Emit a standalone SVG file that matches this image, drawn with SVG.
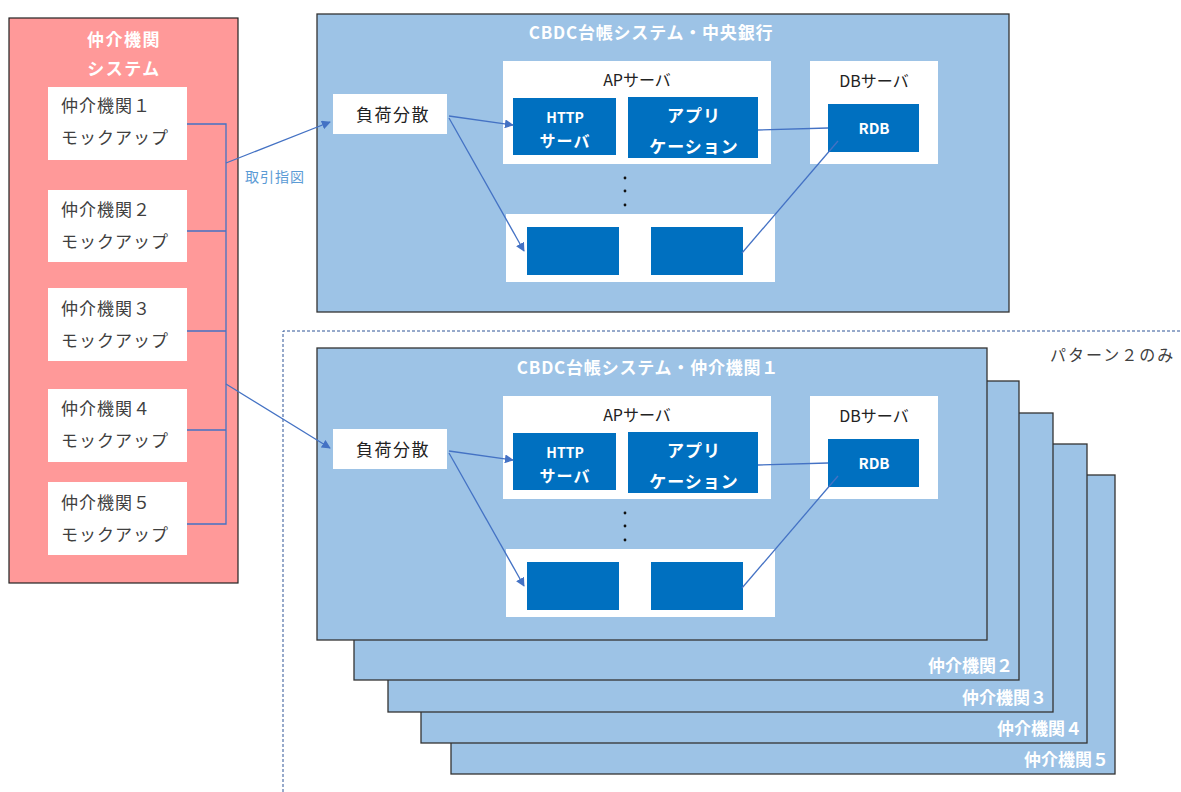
<svg xmlns="http://www.w3.org/2000/svg" width="1181" height="792" viewBox="0 0 1181 792">
<style>
text{font-family:"Noto Sans CJK JP","Noto Sans",sans-serif}
.pink{fill:#FF9999;stroke:#222;stroke-width:1.2}
.sys{fill:#9DC3E6;stroke:#333;stroke-width:1.3}
.wbox{fill:#fff}
.bbox{fill:#0070C0}
.wt{fill:#fff;font-weight:bold;text-anchor:middle}
.dt{fill:#404040;font-size:17px;letter-spacing:1px}
.ct{fill:#222;font-size:16px;text-anchor:middle}
.stk{fill:#fff;font-weight:bold;font-size:17px;text-anchor:end}
.ln{stroke:#4472C4;stroke-width:1.3;fill:none}
</style>
<defs>
<marker id="ah" viewBox="0 0 10 10" refX="9" refY="5" markerWidth="9" markerHeight="9" markerUnits="userSpaceOnUse" orient="auto">
<path d="M0,0 L10,5 L0,10 z" fill="#4472C4"/>
</marker>
<g id="sysInner">
<rect class="wbox" x="333" y="94" width="114" height="40"/>
<text class="ct" x="393" y="121" style="font-size:17px;letter-spacing:1.5px">負荷分散</text>
<rect class="wbox" x="503" y="61" width="268" height="103"/>
<text class="ct" x="637" y="86">APサーバ</text>
<rect class="bbox" x="513" y="98" width="103" height="57"/>
<text class="wt" x="565" y="123" style="font-size:14px">HTTP</text>
<text class="wt" x="565" y="147" style="font-size:16px;letter-spacing:1px">サーバ</text>
<rect class="bbox" x="628" y="97" width="130" height="61"/>
<text class="wt" x="694" y="122" style="font-size:17px;letter-spacing:1px">アプリ</text>
<text class="wt" x="694" y="153" style="font-size:17px;letter-spacing:1px">ケーション</text>
<rect class="wbox" x="810" y="61" width="128" height="103"/>
<text class="ct" x="874" y="87">DBサーバ</text>
<rect class="bbox" x="828" y="104" width="91" height="48"/>
<text class="wt" x="874" y="134" style="font-size:15px">RDB</text>
<circle cx="625" cy="178" r="1.4" fill="#111"/>
<circle cx="625" cy="191" r="1.4" fill="#111"/>
<circle cx="625" cy="205" r="1.4" fill="#111"/>
<rect class="wbox" x="506" y="214" width="269" height="68"/>
<rect class="bbox" x="527" y="227" width="92" height="48"/>
<rect class="bbox" x="651" y="227" width="92" height="48"/>
<line class="ln" x1="449" y1="116" x2="513" y2="125" marker-end="url(#ah)"/>
<line class="ln" x1="449" y1="118" x2="524" y2="251" marker-end="url(#ah)"/>
<line class="ln" x1="758" y1="130" x2="828" y2="128"/>
<line class="ln" x1="742" y1="253" x2="838" y2="141"/>
</g>
</defs>

<g id="broker-system">
<rect class="pink" x="9" y="18" width="229" height="565"/>
<text class="wt" x="124" y="46" style="font-size:17px;letter-spacing:1.5px">仲介機関</text>
<text class="wt" x="124" y="75" style="font-size:17px;letter-spacing:1.5px">システム</text>
</g>
<g id="mock1"><rect class="wbox" x="48" y="87" width="139" height="73"/><text class="dt" x="61" y="112">仲介機関１</text><text class="dt" x="61" y="144">モックアップ</text></g>
<g id="mock2"><rect class="wbox" x="48" y="190" width="139" height="72"/><text class="dt" x="61" y="216">仲介機関２</text><text class="dt" x="61" y="248">モックアップ</text></g>
<g id="mock3"><rect class="wbox" x="48" y="288" width="139" height="73"/><text class="dt" x="61" y="315">仲介機関３</text><text class="dt" x="61" y="347">モックアップ</text></g>
<g id="mock4"><rect class="wbox" x="48" y="389" width="139" height="73"/><text class="dt" x="61" y="415">仲介機関４</text><text class="dt" x="61" y="447">モックアップ</text></g>
<g id="mock5"><rect class="wbox" x="48" y="482" width="139" height="73"/><text class="dt" x="61" y="509">仲介機関５</text><text class="dt" x="61" y="541">モックアップ</text></g>

<g id="central-bank-system">
<rect class="sys" x="317" y="14" width="692" height="298"/>
<text class="wt" x="651" y="39" style="font-size:17px;letter-spacing:0.8px">CBDC台帳システム・中央銀行</text>
<use href="#sysInner"/>
</g>

<g id="pattern2-area">
<path d="M283,792 V331 H1181" fill="none" stroke="#2F5597" stroke-width="1" stroke-dasharray="3,2"/>
<text x="1050" y="361" style="fill:#404040;font-size:16px;letter-spacing:2px">パターン２のみ</text>
</g>

<g id="broker5"><rect class="sys" x="451" y="475" width="664" height="299"/><text class="stk" x="1109" y="766">仲介機関５</text></g>
<g id="broker4"><rect class="sys" x="421" y="444" width="666" height="299"/><text class="stk" x="1082" y="735">仲介機関４</text></g>
<g id="broker3"><rect class="sys" x="388" y="413" width="665" height="299"/><text class="stk" x="1047" y="704">仲介機関３</text></g>
<g id="broker2"><rect class="sys" x="354" y="381" width="665" height="299"/><text class="stk" x="1013" y="672">仲介機関２</text></g>
<g id="broker1-system">
<rect class="sys" x="317" y="348" width="670" height="292"/>
<text class="wt" x="648" y="374" style="font-size:17px;letter-spacing:0.8px">CBDC台帳システム・仲介機関１</text>
<use href="#sysInner" transform="translate(0,335)"/>
</g>

<g id="connectors">
<path class="ln" d="M187,124 H226 V524 H187 M187,231 H226 M187,331 H226 M187,430 H226"/>
<line class="ln" x1="226" y1="163" x2="330" y2="122" marker-end="url(#ah)"/>
<line class="ln" x1="226" y1="384" x2="330" y2="448" marker-end="url(#ah)"/>
<text x="245" y="182" style="fill:#5B9BD5;font-size:14px;letter-spacing:1px">取引指図</text>
</g>
</svg>
